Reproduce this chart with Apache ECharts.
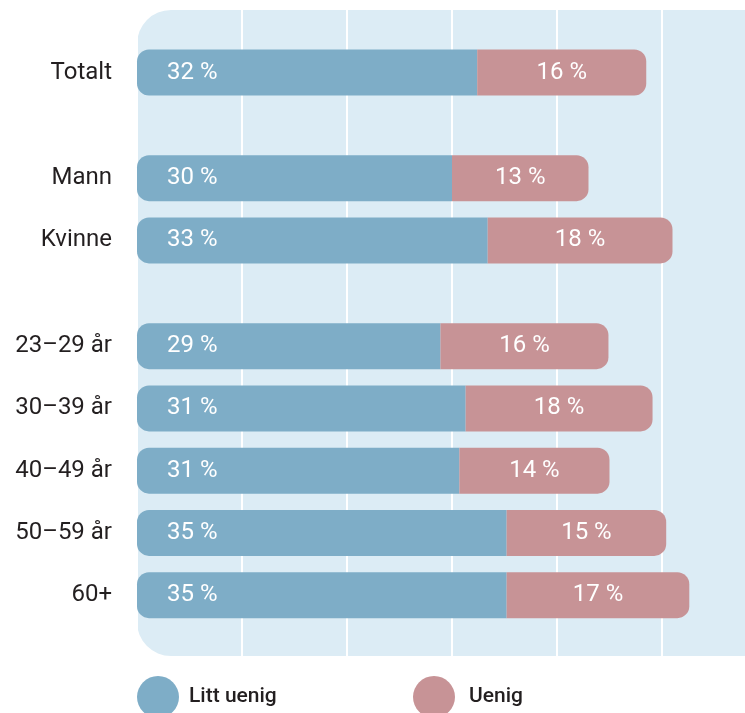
<!DOCTYPE html>
<html>
<head>
<meta charset="utf-8">
<script src="https://cdn.jsdelivr.net/npm/echarts@6/dist/echarts.min.js"></script>
<style>
  html, body { margin: 0; padding: 0; background: #fff; }
  #chart { width: 745px; height: 713px; }
</style>
</head>
<body>
<div id="chart"></div>
<script>
// rows, in three groups
var totalCats = ['Totalt'];
var kjonnCats = ['Mann', 'Kvinne'];
var alderCats = ['23\u201329 år', '30\u201339 år', '40\u201349 år', '50\u201359 år', '60+'];
// values (labels are rounded)
var littUenig = [32.4, 30.0, 33.4, 28.9, 31.3, 30.7, 35.2, 35.2];
var uenig = [16.1, 13.0, 17.6, 16.0, 17.8, 14.3, 15.2, 17.4];
var seriesNames = ['Litt uenig', 'Uenig'];

var BLUE = '#7eadc7', RED = '#c79396', BG = '#dcecf5', TXT = '#231f20';
var FONT = 'Roboto';

var groups = [totalCats, kjonnCats, alderCats];
// row band placement for each group
var gridBoxes = [
    {top: 41, height: 63},
    {top: 147, height: 124.5},
    {top: 315, height: 311.25}
];

var grids = [], xAxes = [], yAxes = [], series = [];
var offset = 0;
groups.forEach(function (cats, i) {
    grids.push({left: 137, width: 630, top: gridBoxes[i].top, height: gridBoxes[i].height, outerBoundsMode: 'none'});
    xAxes.push({type: 'value', gridIndex: i, min: 0, max: 60, show: false});
    yAxes.push({
        type: 'category', gridIndex: i, data: cats, inverse: true,
        axisLine: {show: false}, axisTick: {show: false},
        axisLabel: {color: TXT, fontSize: 24, fontFamily: FONT, margin: 25}
    });
    series.push({
        name: seriesNames[0], type: 'bar', stack: 's' + i, xAxisIndex: i, yAxisIndex: i,
        data: littUenig.slice(offset, offset + cats.length), barWidth: 46,
        itemStyle: {color: BLUE, borderRadius: [12, 0, 0, 12]},
        label: {show: true, position: 'insideLeft', distance: 30, color: '#fff', fontSize: 24, fontFamily: FONT,
            formatter: function (p) { return Math.round(p.value) + ' %'; }}
    });
    series.push({
        name: seriesNames[1], type: 'bar', stack: 's' + i, xAxisIndex: i, yAxisIndex: i,
        data: uenig.slice(offset, offset + cats.length), barWidth: 46,
        itemStyle: {color: RED, borderRadius: [0, 12, 12, 0]},
        label: {show: true, position: 'inside', color: '#fff', fontSize: 24, fontFamily: FONT,
            formatter: function (p) { return Math.round(p.value) + ' %'; }}
    });
    offset += cats.length;
});

// full-height grid just for the white vertical grid lines
grids.push({left: 137, width: 630, top: 10, height: 646, outerBoundsMode: 'none'});
xAxes.push({
    type: 'value', gridIndex: 3, min: 0, max: 60, interval: 10,
    axisLine: {show: false}, axisTick: {show: false}, axisLabel: {show: false},
    splitLine: {show: true, lineStyle: {color: '#fff', width: 2}}
});
yAxes.push({type: 'value', gridIndex: 3, show: false, splitLine: {show: false}});

var chart = echarts.init(document.getElementById('chart'));
chart.setOption({
    animation: false,
    textStyle: {fontFamily: FONT},
    graphic: {elements: [{
        type: 'rect', z: -10, silent: true,
        shape: {x: 137, y: 10, width: 660, height: 646, r: 34},
        style: {fill: BG}
    }]},
    legend: [
        {data: [seriesNames[0]], left: 137, top: 676, padding: 0, icon: 'circle', itemWidth: 42, itemHeight: 42,
            textStyle: {color: TXT, fontSize: 21, fontWeight: 500, fontFamily: FONT, padding: [0, 0, 0, 5]}},
        {data: [seriesNames[1]], left: 413, top: 676, padding: 0, icon: 'circle', itemWidth: 42, itemHeight: 42,
            textStyle: {color: TXT, fontSize: 21, fontWeight: 500, fontFamily: FONT, padding: [0, 0, 0, 9]}}
    ],
    grid: grids,
    xAxis: xAxes,
    yAxis: yAxes,
    series: series
});
</script>
</body>
</html>
